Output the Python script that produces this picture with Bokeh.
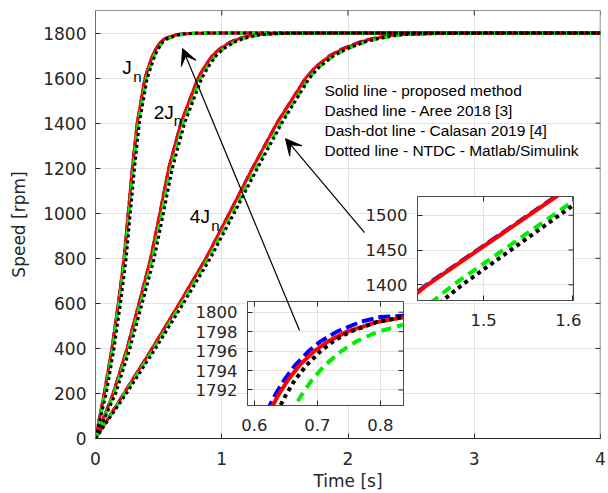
import math
from bokeh.plotting import figure
from bokeh.models import FixedTicker, Range1d, Arrow, VeeHead, Column, Span
from bokeh.core.properties import value
from bokeh.embed import file_html
from bokeh.resources import INLINE

# ---------------- data ----------------
# speed levels [rpm] shared by all curves; times [s] at which each curve reaches them
speed_levels = [0, 200, 400, 600, 800, 1000, 1200, 1400, 1600, 1650, 1700, 1730, 1760, 1775,
                1790, 1791.5, 1793, 1794.5, 1796, 1797, 1798, 1799, 1799.5, 1800, 1800]

# J = Jn
t_j1_red   = [0, 0.069, 0.130, 0.181, 0.226, 0.259, 0.292, 0.330, 0.392, 0.420, 0.452, 0.480, 0.515, 0.552, 0.626, 0.638, 0.653, 0.671, 0.695, 0.717, 0.747, 0.795, 0.840, 1.05, 4.0]
t_j1_blue  = [0, 0.069, 0.130, 0.181, 0.226, 0.259, 0.292, 0.330, 0.392, 0.420, 0.452, 0.479, 0.513, 0.548, 0.621, 0.633, 0.647, 0.664, 0.686, 0.705, 0.731, 0.768, 0.800, 0.95, 4.0]
t_j1_green = [0, 0.075, 0.136, 0.187, 0.232, 0.266, 0.299, 0.338, 0.402, 0.432, 0.465, 0.495, 0.535, 0.578, 0.661, 0.675, 0.691, 0.711, 0.738, 0.762, 0.796, 0.853, 0.911, 1.15, 4.0]
t_j1_black = [0, 0.085, 0.147, 0.198, 0.243, 0.276, 0.309, 0.347, 0.410, 0.440, 0.470, 0.498, 0.532, 0.566, 0.638, 0.650, 0.664, 0.682, 0.705, 0.725, 0.752, 0.795, 0.835, 1.05, 4.0]
# J = 2Jn
t_j2_red   = [0, 0.140, 0.250, 0.345, 0.437, 0.510, 0.580, 0.676, 0.812, 0.864, 0.926, 0.986, 1.070, 1.140, 1.240, 1.263, 1.290, 1.322, 1.360, 1.395, 1.440, 1.530, 1.650, 2.00, 4.0]
t_j2_blue  = [0, 0.140, 0.250, 0.345, 0.437, 0.510, 0.580, 0.676, 0.812, 0.864, 0.925, 0.984, 1.066, 1.133, 1.230, 1.252, 1.278, 1.309, 1.345, 1.378, 1.420, 1.500, 1.600, 1.95, 4.0]
t_j2_green = [0, 0.148, 0.260, 0.357, 0.451, 0.525, 0.596, 0.694, 0.832, 0.886, 0.951, 1.013, 1.100, 1.175, 1.290, 1.318, 1.350, 1.383, 1.420, 1.455, 1.500, 1.590, 1.700, 2.10, 4.0]
t_j2_black = [0, 0.160, 0.273, 0.370, 0.465, 0.538, 0.609, 0.706, 0.842, 0.894, 0.956, 1.014, 1.100, 1.170, 1.275, 1.296, 1.320, 1.350, 1.385, 1.418, 1.460, 1.550, 1.670, 2.05, 4.0]
# J = 4Jn
t_j4_red   = [0, 0.225, 0.449, 0.665, 0.875, 1.060, 1.243, 1.437, 1.665, 1.745, 1.860, 1.960, 2.100, 2.200, 2.350, 2.383, 2.420, 2.480, 2.550, 2.620, 2.700, 2.850, 3.000, 3.40, 4.0]
t_j4_blue  = [0, 0.225, 0.449, 0.665, 0.875, 1.060, 1.243, 1.436, 1.664, 1.743, 1.855, 1.952, 2.090, 2.185, 2.330, 2.363, 2.400, 2.455, 2.520, 2.585, 2.660, 2.800, 2.950, 3.35, 4.0]
t_j4_green = [0, 0.232, 0.462, 0.682, 0.895, 1.084, 1.270, 1.466, 1.690, 1.775, 1.890, 1.995, 2.140, 2.245, 2.400, 2.438, 2.480, 2.538, 2.600, 2.675, 2.760, 2.920, 3.080, 3.50, 4.0]
t_j4_black = [0, 0.245, 0.476, 0.697, 0.910, 1.098, 1.283, 1.476, 1.694, 1.775, 1.888, 1.990, 2.130, 2.235, 2.380, 2.413, 2.450, 2.508, 2.570, 2.640, 2.720, 2.870, 3.020, 3.45, 4.0]

x_ticks_main = [0, 1, 2, 3, 4]
y_ticks_main = [0, 200, 400, 600, 800, 1000, 1200, 1400, 1600, 1800]
x_ticks_in1 = [0.6, 0.7, 0.8]
y_ticks_in1 = [1792, 1794, 1796, 1798, 1800]
x_ticks_in2 = [1.5, 1.6]
y_ticks_in2 = [1400, 1450, 1500]

legend_lines = ["Solid line - proposed method",
                "Dashed line - Aree 2018 [3]",
                "Dash-dot line - Calasan 2019 [4]",
                "Dotted line - NTDC - Matlab/Simulink"]
case_labels = ["J", "2J", "4J"]
case_subs = ["n", "n", "n"]

# ---------------- styling ----------------
AX = "#262626"
SIDE = "#55805a"
GRID = "#e3e3e3"
INSET_BOX = "#4a4a4a"
TICK_FONT = "DejaVu Sans"
TEXT_FONT = "Liberation Sans"

methods = [
    ("blue",    "#0000ff", "dashed"),
    ("red",     "#ff0000", "solid"),
    ("green",   "#00ee00", "dashdot"),
    ("black",   "#000000", "dotted"),
]
series = {
    "blue":  [t_j1_blue, t_j2_blue, t_j4_blue],
    "red":   [t_j1_red, t_j2_red, t_j4_red],
    "green": [t_j1_green, t_j2_green, t_j4_green],
    "black": [t_j1_black, t_j2_black, t_j4_black],
}
for _k, _lst in series.items():
    for _t in _lst:
        assert len(_t) == len(speed_levels), (_k, len(_t))

main_dash = {"solid": "solid", "dashed": "10 4", "dashdot": "8 4", "dotted": "3 3"}
inset_dash = {"solid": "solid", "dashed": "12 5", "dashdot": "10 6", "dotted": "4 4"}


def draw_curves(fig, width, dashes):
    for key, color, style in methods:
        for t in series[key]:
            fig.line(t, speed_levels, line_color=color, line_width=width,
                     line_dash=dashes[style], line_cap="butt", line_join="round")


def style_axes(fig, xt, yt, font_size, xstand, ystand, tick_color):
    for ax in fig.xaxis + fig.yaxis:
        ax.major_tick_in = 5
        ax.major_tick_out = 0
        ax.minor_tick_line_color = None
        ax.major_tick_line_color = tick_color
        ax.major_label_text_font = TICK_FONT
        ax.major_label_text_font_size = font_size
        ax.major_label_text_color = AX
    fig.xaxis.ticker = FixedTicker(ticks=xt)
    fig.yaxis.ticker = FixedTicker(ticks=yt)
    fig.xgrid.ticker = FixedTicker(ticks=xt)
    fig.ygrid.ticker = FixedTicker(ticks=yt)
    fig.xaxis.major_label_standoff = xstand
    fig.yaxis.major_label_standoff = ystand
    fig.grid.grid_line_color = GRID
    fig.grid.grid_line_width = 1
    # mirrored inward ticks on the top and right edges (half of each mark is clipped)
    fig.scatter(x=xt, y=[fig.y_range.end] * len(xt), marker="dash", angle=math.pi / 2,
                size=10, line_color=tick_color, line_width=1)
    fig.scatter(x=[fig.x_range.end] * len(yt), y=yt, marker="dash", angle=0,
                size=10, line_color=tick_color, line_width=1)


W, H = 608, 493
ML, MR, MT, MB = 95, 8, 10, 55

p = figure(width=W, height=H, x_range=Range1d(0, 4), y_range=Range1d(0, 1900),
           output_backend="svg", toolbar_location=None,
           min_border_left=ML, min_border_right=MR, min_border_top=MT, min_border_bottom=MB)
p.outline_line_color = None
p.background_fill_color = "white"
p.border_fill_color = "white"
style_axes(p, x_ticks_main, y_ticks_main, "17px", 13, 9, AX)
xb = p.xaxis[0]
yl = p.yaxis[0]
xb.axis_line_color = AX
yl.axis_line_color = SIDE
xb.axis_label = "Time [s]"
yl.axis_label = "Speed [rpm]"
for ax in (xb, yl):
    ax.axis_label_text_font = TICK_FONT
    ax.axis_label_text_font_size = "17px"
    ax.axis_label_text_font_style = "normal"
    ax.axis_label_text_color = AX
xb.axis_label_standoff = 3
yl.axis_label_standoff = 11
p.add_layout(Span(location=p.y_range.end, dimension="width", line_color=AX, line_width=1))
p.add_layout(Span(location=p.x_range.end, dimension="height", line_color=SIDE, line_width=1.5))

draw_curves(p, 3, main_dash)

# case labels J_n, 2J_n, 4J_n
p.text(x=[0.2115, 0.4618, 0.747], y=[1648, 1448.6, 985.5], text=case_labels,
       text_font=value(TEXT_FONT), text_font_size="19px", text_color="black",
       text_align="left", text_baseline="alphabetic")
p.text(x=[0.2986, 0.620, 0.9164], y=[1608, 1411.7, 945.6], text=case_subs,
       text_font=value(TEXT_FONT), text_font_size="15px", text_color="black",
       text_align="left", text_baseline="alphabetic")
# text legend
p.text(x=[1.8139] * 4, y=[1543.6, 1454.8, 1366.0, 1277.2], text=legend_lines,
       text_font=value(TEXT_FONT), text_font_size="15.5px", text_color="black",
       text_align="left", text_baseline="alphabetic")

# insets: borders equal to the main plot's left/right ones (the column aligns them)
IL, IR, IT, IB = ML, MR, 10, 40
IW, IH = 156, 104


def make_inset(xr, yr, xt, yt):
    f = figure(width=IL + IW + IR, height=IT + IH + IB, x_range=Range1d(*xr), y_range=Range1d(*yr),
               output_backend="svg", toolbar_location=None,
               min_border_left=IL, min_border_right=IR, min_border_top=IT, min_border_bottom=IB)
    f.outline_line_color = INSET_BOX
    f.background_fill_color = "white"
    f.border_fill_color = None
    style_axes(f, xt, yt, "16.5px", 13, 10, AX)
    f.xaxis.axis_line_color = INSET_BOX
    f.yaxis.axis_line_color = INSET_BOX
    draw_curves(f, 4, inset_dash)
    return f


in1 = make_inset((0.589, 0.8365), (1790.4, 1801.1), x_ticks_in1, y_ticks_in1)
in2 = make_inset((1.4258, 1.601), (1377.4, 1527.0), x_ticks_in2, y_ticks_in2)
in1.styles = {"position": "absolute", "left": f"{247 - IL}px", "top": f"{301 - IT}px"}
in2.styles = {"position": "absolute", "left": f"{417 - IL}px", "top": f"{196 - IT}px"}

# overlay for arrows (drawn above the insets)
ov = figure(width=W, height=H, x_range=p.x_range, y_range=p.y_range,
            output_backend="svg", toolbar_location=None,
            x_axis_location=None, y_axis_location=None,
            min_border_left=ML, min_border_right=MR, min_border_top=MT, min_border_bottom=MB)
ov.grid.visible = False
ov.outline_line_color = None
ov.background_fill_color = None
ov.border_fill_color = None
ov.add_layout(Arrow(end=VeeHead(size=16, line_color="black", fill_color="black", line_width=1),
                    x_start=1.616, y_start=479, x_end=0.69, y_end=1731,
                    line_color="black", line_width=1.2))
ov.add_layout(Arrow(end=VeeHead(size=16, line_color="black", fill_color="black", line_width=1),
                    x_start=2.131, y_start=914, x_end=1.505, y_end=1331,
                    line_color="black", line_width=1.2))
ov.styles = {"position": "absolute", "left": "0px", "top": "0px"}

layout = Column(children=[p, in1, in2, ov], styles={"position": "relative"})

open("out.html", "w").write(file_html(layout, INLINE))
